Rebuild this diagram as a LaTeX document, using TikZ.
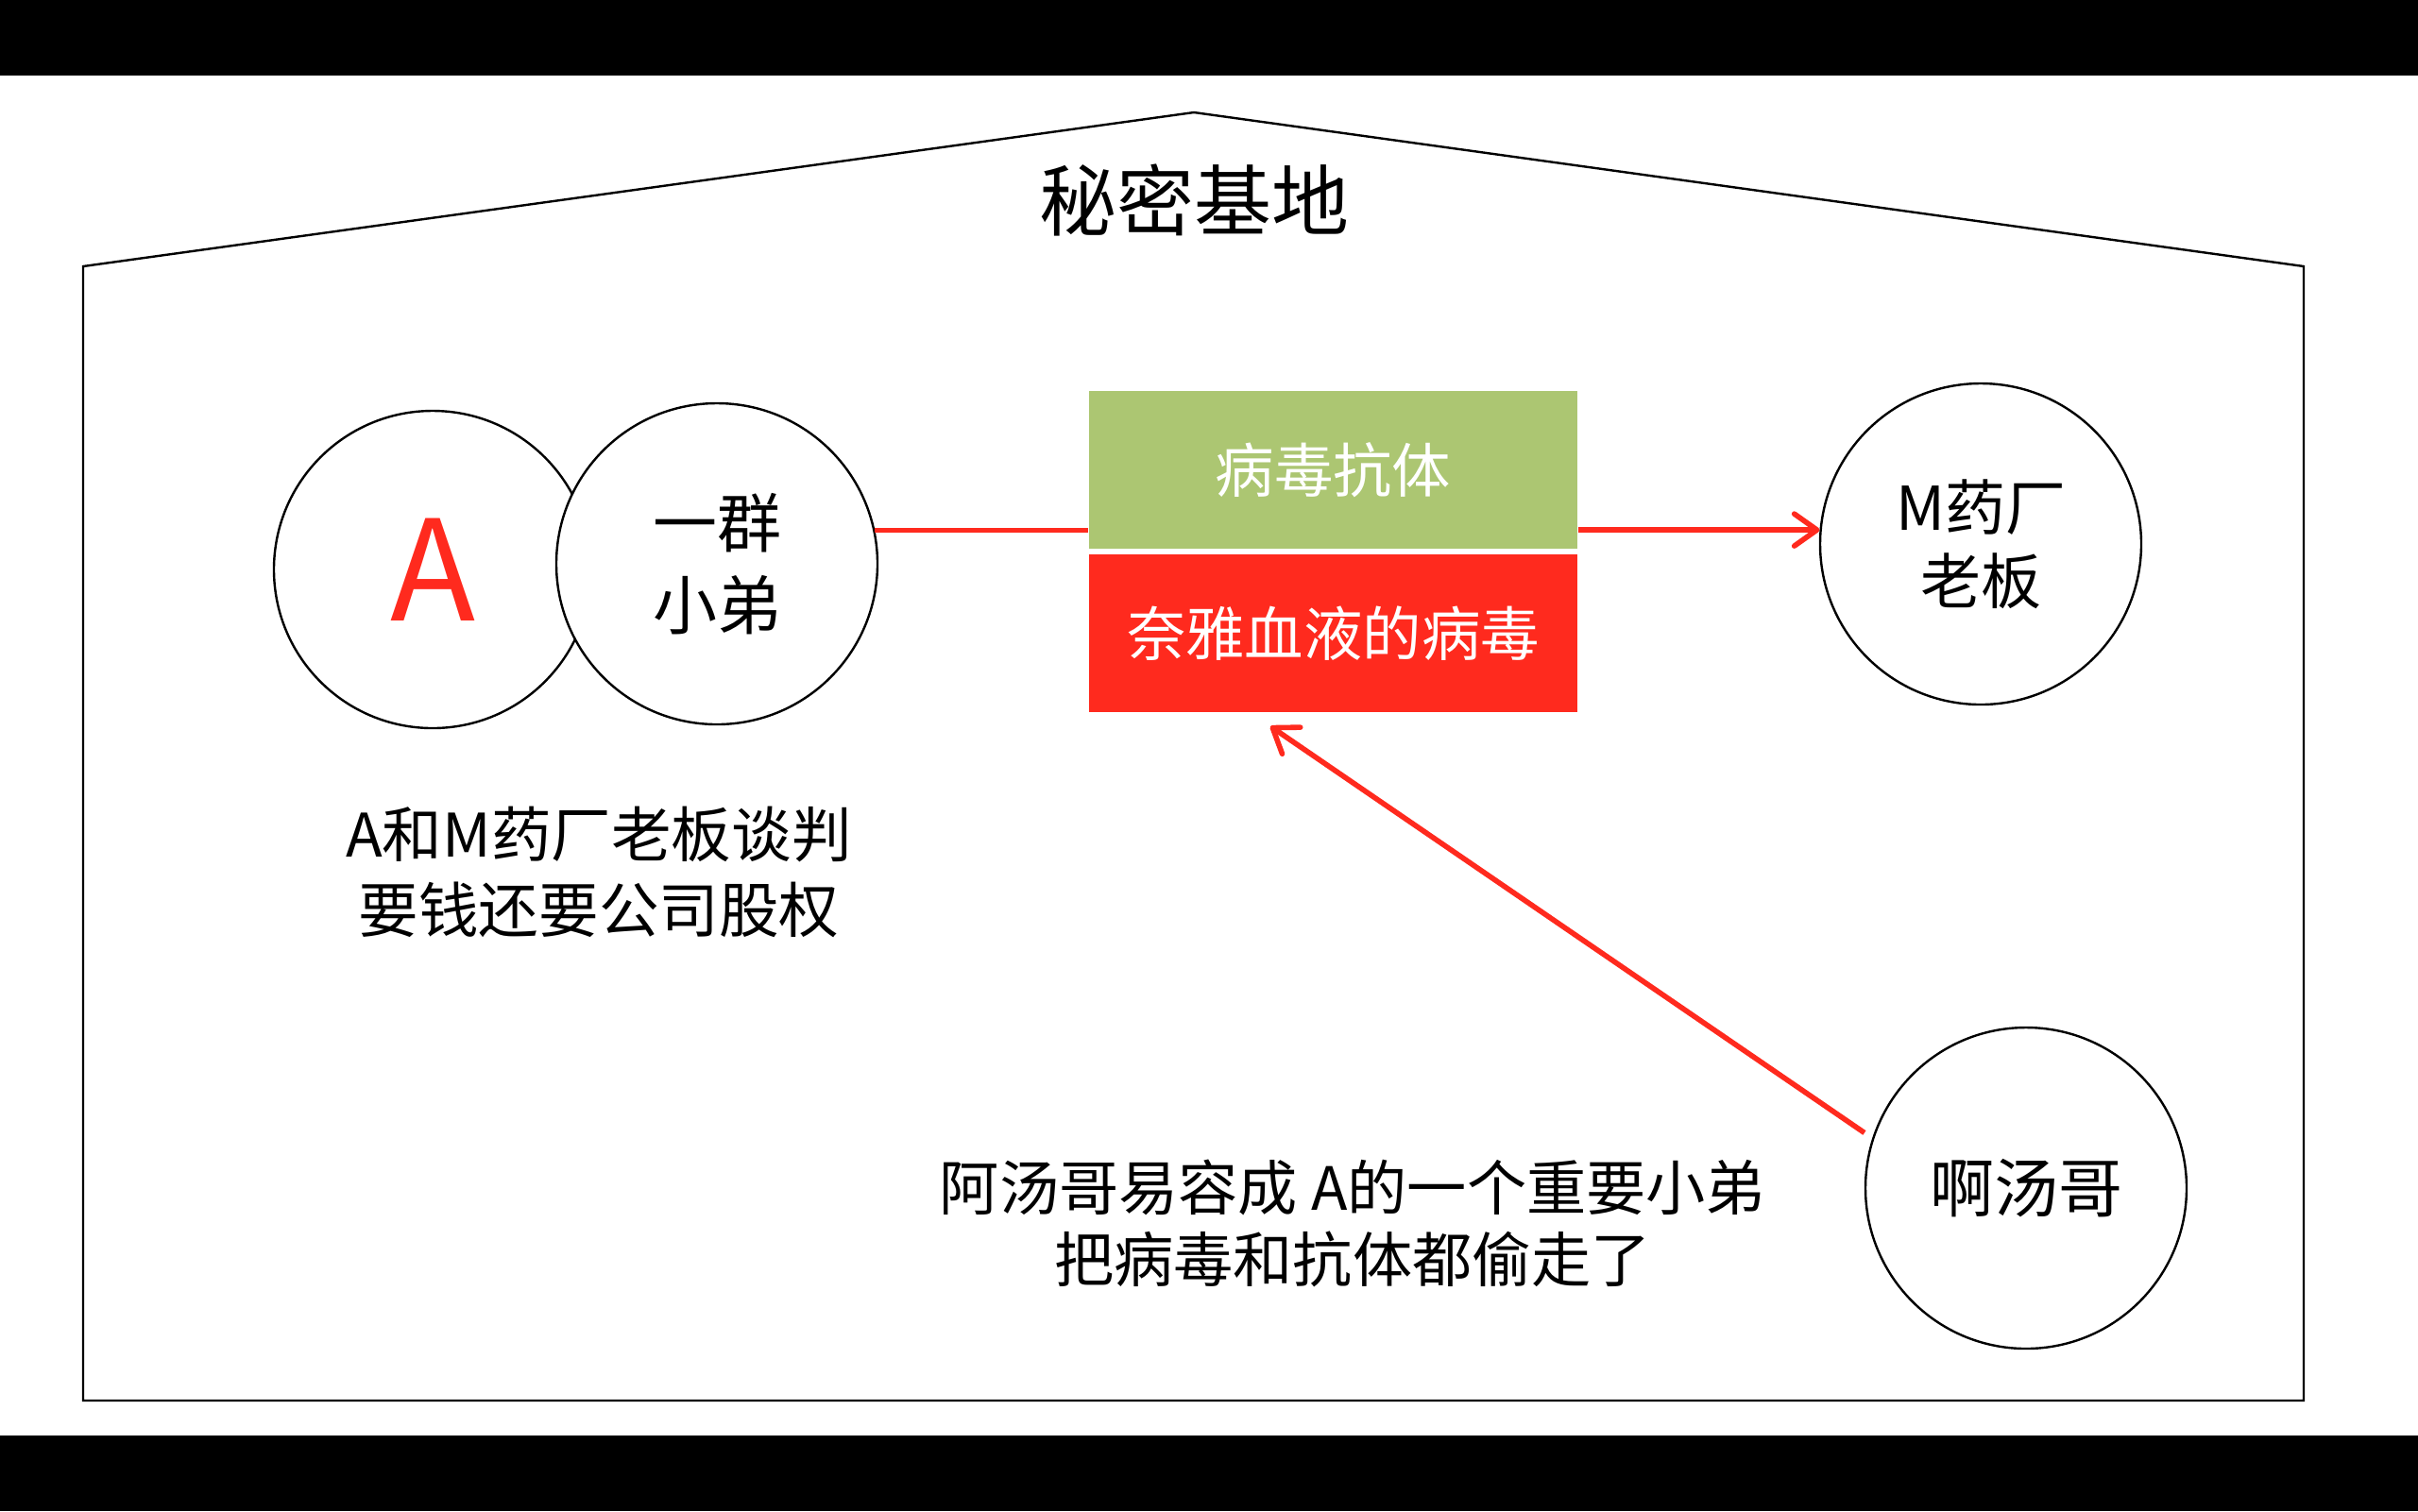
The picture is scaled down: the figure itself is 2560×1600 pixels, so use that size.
\documentclass[tikz,border=0pt]{standalone}
\usepackage{fontspec}
\setmainfont{Noto Sans CJK SC}
\usetikzlibrary{arrows.meta}
\definecolor{boxgreen}{RGB}{172,198,114}
\definecolor{boxred}{RGB}{255,42,30}
\tikzset{
  outline/.style={draw=black, line width=0.6pt},
  person/.style={outline, circle, minimum size=85pt, inner sep=0pt, fill=white, align=center},
  infobox/.style={minimum width=129.25pt, minimum height=41.75pt, inner sep=0pt, text=white, font=\fontsize{15.6pt}{19pt}\selectfont},
  redline/.style={draw=boxred, line width=1.4pt},
  redarrow/.style={redline, -{Straight Barb[length=6pt,width=8.5pt,line width=1.4pt,round]}},
  caption/.style={align=center, font=\fontsize{15.8pt}{19pt}\selectfont}
}
\begin{document}
\begin{tikzpicture}[x=0.25pt,y=-0.25pt]
\useasboundingbox (0,0) rectangle (2560,1600);
\fill[black] (0,0) rectangle (2560,80);
\fill[black] (0,1520) rectangle (2560,1600);
% house
\draw[outline] (88,1483) -- (88,282) -- (1264,119) -- (2439,282) -- (2439,1483) -- cycle;
\node[font=\fontsize{20.5pt}{24pt}\selectfont] (title) at (1264,212) {秘密基地};
% circles
\node[person, minimum size=84pt, text=boxred, font=\fontsize{37pt}{40pt}\selectfont] (cA) at (458,603) {A};
\node[person, font=\fontsize{17pt}{21.75pt}\selectfont] (cB) at (759,597) {一群\\小弟};
\node[person, font=\fontsize{16pt}{19.5pt}\selectfont] (cM) at (2097,576) {M药厂\\老板};
\node[person, font=\fontsize{17pt}{20pt}\selectfont] (cT) at (2145,1258) {啊汤哥};
% boxes
\node[infobox, fill=boxgreen] (green) at (1411.5,497.5) {病毒抗体};
\node[infobox, fill=boxred] (red) at (1411.5,670.5) {奈雅血液的病毒};
% captions
\node[caption, font=\fontsize{15.9pt}{20pt}\selectfont] (capL) at (634,923) {A和M药厂老板谈判\\要钱还要公司股权};
\node[caption] (capB) at (1432,1295) {阿汤哥易容成 A的一个重要小弟\\把病毒和抗体都偷走了};
% connectors
\draw[redline] (cB.12) -- (cB.12 -| green.west);
\draw[redarrow] (cM.175 -| green.east) -- (cM.175);
\coordinate (tip) at (1345,769);
\draw[redarrow, shorten <=2.5pt] (cT.162) -- (tip);
\end{tikzpicture}
\end{document}
